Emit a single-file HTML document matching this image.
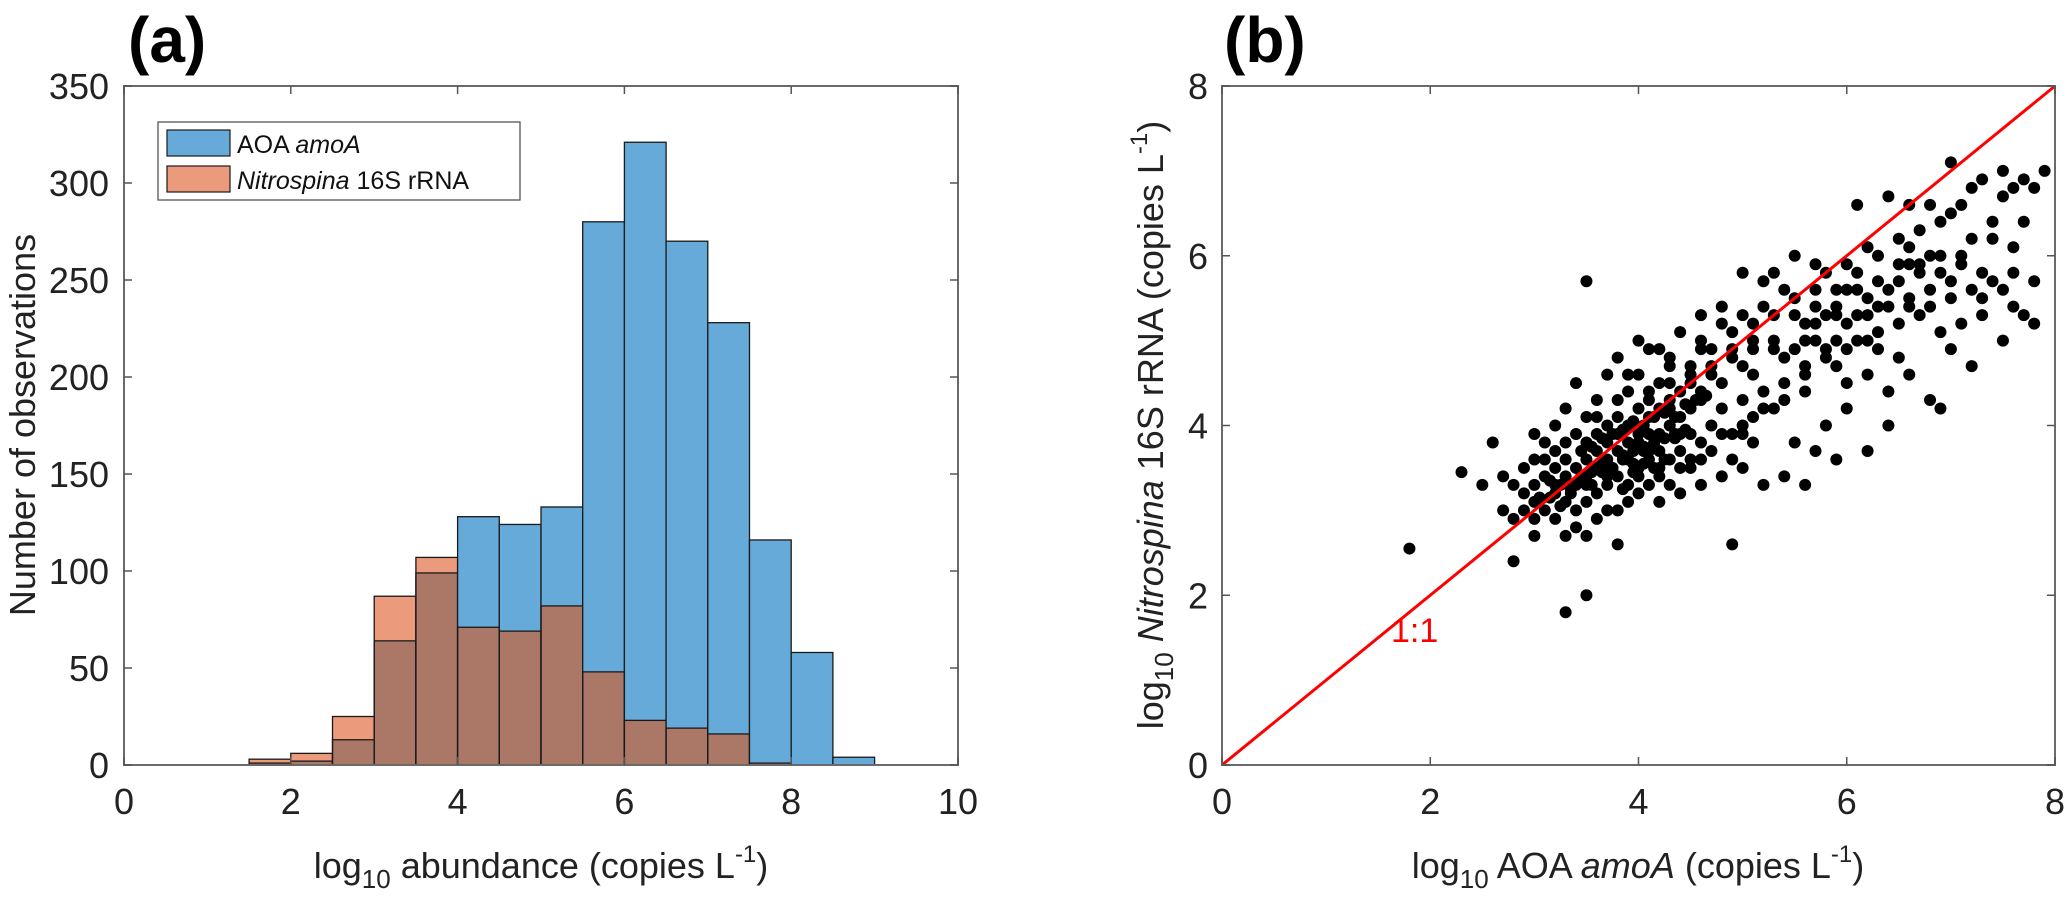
<!DOCTYPE html>
<html><head><meta charset="utf-8">
<style>
html,body{margin:0;padding:0;background:#fff;}
svg{display:block;font-family:"Liberation Sans",Arial,sans-serif;}
</style></head>
<body>
<svg id="fig" width="2067" height="901" viewBox="0 0 2067 901" xmlns="http://www.w3.org/2000/svg">
  <text x="128" y="62" font-size="64" font-weight="bold">(a)</text>
  <text x="1224" y="62" font-size="64" font-weight="bold">(b)</text>
  <g id="histA"></g>
  <g id="scatB"></g>
</svg>
<script>
const NS = "http://www.w3.org/2000/svg";
// ---- Histogram data ----
const binEdgesStart = [1.5,2,2.5,3,3.5,4,4.5,5,5.5,6,6.5,7,7.5,8,8.5];
const aoaCounts =      [1,2,13,64,99,128,124,133,280,321,270,228,116,58,4];
const nitroCounts =    [3,6,25,87,107,71,69,82,48,23,19,16,1,0,0];
const binWidth = 0.5;
const histXTicks = [0,2,4,6,8,10];
const histYTicks = [0,50,100,150,200,250,300,350];
// ---- Scatter data ----
const scatterX = [1.8,2.3,2.6,2.8,3.0,3.3,3.5,3.5,3.0,3.4,3.8,4.9,2.7,2.5,2.9,
3.1,3.2,3.3,3.4,3.5,3.6,3.7,3.8,3.9,4.0,4.1,4.2,4.3,4.4,3.2,3.3,3.4,3.5,3.6,3.7,3.8,3.9,4.0,4.1,4.2,4.3,4.4,4.5,3.0,3.1,3.3,3.5,3.6,3.7,3.8,3.9,4.0,4.1,4.2,3.4,3.6,3.7,3.9,4.0,4.1,4.3,4.5,4.6,4.7,4.8,4.6,4.4,4.2,4.0,3.9,3.6,3.3,3.0,2.9,2.8,2.7,3.1,3.2,3.3,3.5,3.8,4.2,4.4,4.6,4.8,5.0,4.9,5.0,5.1,4.9,4.7,4.5,4.3,4.1,4.0,3.8,3.7,4.6,4.8,5.0,5.2,5.1,5.3,5.4,5.2,5.4,5.5,5.6,5.5,5.7,5.8,5.9,6.0,5.3,5.5,5.0,4.8,4.6,4.4,4.2,5.6,5.8,5.7,5.9,6.0,6.1,6.2,6.3,6.4,6.5,6.6,6.7,6.8,6.9,7.0,7.1,7.2,7.3,7.4,7.5,7.6,6.1,6.3,6.5,6.2,6.7,6.9,7.0,7.2,7.3,7.5,7.6,7.7,7.9,7.8,7.5,7.1,7.0,6.8,6.6,6.4,6.6,6.8,7.4,7.6,6.1,6.3,6.5,6.7,6.9,7.1,7.3,7.5,7.7,7.8,6.0,6.2,6.4,6.6,6.8,6.9,6.4,6.5,7.0,7.2,5.8,5.5,5.4,5.2,5.6,5.7,5.9,6.2,6.0,5.0,5.1,5.3,5.6,5.9,6.3,5.7,5.8,6.0,5.4,5.2,5.1,4.9,4.7,4.5,4.5,4.3,4.4,4.2,4.0,3.9,3.7,3.5,3.4,3.2,3.0,2.9,3.6,3.8,4.1,4.3,4.6,4.8,5.0,5.3,5.6,5.9,6.2,6.4,6.6,6.8,7.0,7.3,7.6,7.8,6.1,6.6,7.1,5.7,4.6,4.3,3.9,3.5,3.2,3.1,4.0,3.7,3.5,3.3,4.2,4.5,4.7,4.9,5.1,3.0,2.8,3.2,3.4,3.6,3.8,4.1,4.3,4.5,4.7,4.9,5.1,5.3,5.5,5.7,5.9,6.1,6.3,6.5,6.7,6.9,7.2,7.4,7.7,4.1,4.4,4.6,4.8,5.0,5.2,5.4,5.6,5.8,6.0,6.2,
3.15,3.25,3.35,3.45,3.55,3.65,3.75,3.85,3.95,4.05,4.15,4.25,4.35,3.25,3.35,3.45,3.55,3.65,3.75,3.85,3.95,4.05,4.15,4.25,4.35,4.45,3.45,3.55,3.65,3.75,3.85,3.95,4.05,4.15,4.25,4.35,4.45,4.55,4.65,3.05,3.15,3.85,3.95,4.05,4.15];
const scatterY = [2.55,3.45,3.8,2.4,2.7,1.8,2.0,5.7,3.9,4.5,2.6,2.6,3.0,3.3,3.2,
3.0,3.2,3.1,3.3,3.4,3.5,3.6,3.7,3.6,3.8,3.9,3.7,4.0,4.1,3.5,3.6,3.0,3.1,3.2,3.3,3.4,3.3,3.5,3.6,3.4,3.6,3.7,3.9,3.3,3.6,3.8,3.8,3.9,4.0,4.1,4.0,4.2,4.3,4.2,2.8,2.9,3.0,3.1,3.2,3.3,3.3,3.5,3.8,4.0,4.2,4.3,4.4,4.5,4.6,4.4,4.3,4.2,3.6,3.5,3.3,3.4,3.4,2.9,2.7,2.7,3.0,3.1,3.2,3.3,3.4,3.5,3.9,4.3,4.6,4.8,4.6,4.7,4.8,4.9,5.0,4.8,4.6,5.0,5.2,5.3,5.4,5.0,5.0,4.8,4.4,4.5,4.9,5.2,5.5,5.6,5.8,5.4,5.6,5.8,6.0,5.8,5.4,5.3,5.1,4.9,4.6,4.8,5.0,5.0,5.2,5.3,5.5,5.4,5.6,5.7,5.5,5.8,5.6,5.8,5.7,5.9,5.6,5.8,5.7,5.6,5.4,5.8,6.0,6.2,6.1,6.3,6.4,6.5,6.8,6.9,7.0,6.8,6.9,7.0,6.8,6.7,6.6,7.1,6.6,6.6,6.7,5.9,6.0,6.4,6.1,5.0,5.1,5.2,5.3,5.1,5.2,5.3,5.0,5.3,5.2,4.5,4.6,4.4,4.6,4.3,4.2,4.0,4.8,4.9,4.7,4.0,3.8,3.4,3.3,3.3,3.7,3.6,3.7,4.2,3.9,4.1,4.2,4.4,4.7,4.9,5.4,5.3,5.9,5.6,5.7,5.2,5.1,4.9,4.5,4.2,4.3,3.9,3.9,3.9,3.8,3.8,3.6,3.5,3.3,3.1,3.0,3.7,3.9,4.1,4.2,4.4,4.5,4.7,4.9,5.0,5.3,5.3,5.4,5.4,5.4,5.5,5.5,5.8,5.7,6.6,6.1,6.0,5.9,4.9,4.7,4.6,4.1,4.0,3.8,3.4,3.4,3.3,3.4,3.5,3.6,3.7,3.6,3.8,2.9,2.9,3.7,3.9,4.1,4.3,4.4,4.5,4.6,4.7,4.9,4.9,5.3,5.3,5.2,5.6,5.6,5.7,5.9,5.9,6.0,6.2,6.2,6.4,3.7,3.5,3.6,3.9,4.0,4.2,4.3,4.7,4.9,4.9,5.0,
3.15,3.3,3.25,3.4,3.45,3.55,3.5,3.65,3.7,3.75,3.8,3.85,3.9,3.05,3.2,3.35,3.3,3.45,3.5,3.6,3.55,3.7,3.75,3.6,3.85,3.95,3.7,3.75,3.85,3.9,3.95,4.05,4.0,4.1,4.15,4.1,4.25,4.3,4.35,3.15,3.35,3.25,3.45,3.55,3.5];
const scatTicks = [0,2,4,6,8];

function mk(tag, attrs, parent, txt){
  const e = document.createElementNS(NS, tag);
  for (const k in attrs) e.setAttribute(k, attrs[k]);
  if (txt !== undefined) e.textContent = txt;
  parent.appendChild(e);
  return e;
}

// ===== Panel A =====
(function(){
  const g = document.getElementById('histA');
  const L=124,R=958,T=86,B=765;
  const xs = v => L + (v-0)/10*(R-L);
  const ys = v => B - v/350*(B-T);
  const COL_B="#66aad9", COL_O="#eb9a7b", COL_M="#ab7767";
  for (let i=0;i<binEdgesStart.length;i++){
    const x0=xs(binEdgesStart[i]), x1=xs(binEdgesStart[i]+binWidth);
    const a=aoaCounts[i], n=nitroCounts[i], m=Math.min(a,n);
    if (a>n){
      const r=mk('rect',{x:x0,y:ys(a),width:x1-x0,height:ys(m)-ys(a),fill:COL_B},g);
      
      
    } else if (n>a){
      const r=mk('rect',{x:x0,y:ys(n),width:x1-x0,height:ys(m)-ys(n),fill:COL_O},g);
      
      
    }
    if (m>0){
      const r=mk('rect',{x:x0,y:ys(m),width:x1-x0,height:B-ys(m),fill:COL_M},g);
      
      
    }
    if (a>0){
      const r=mk('rect',{x:x0,y:ys(a),width:x1-x0,height:B-ys(a),fill:'none',stroke:'#1a1a1a','stroke-width':1.3},g);
      
      
    }
    if (n>0){
      const r=mk('rect',{x:x0,y:ys(n),width:x1-x0,height:B-ys(n),fill:'none',stroke:'#1a1a1a','stroke-width':1.3},g);
      
      
    }
  }
  const box=mk('rect',{x:L,y:T,width:R-L,height:B-T,fill:'none',stroke:'#6a6a6a','stroke-width':2},g);
  
  
  histXTicks.forEach(v=>{
    const x=xs(v);
    mk('line',{x1:x,y1:B,x2:x,y2:B-8,stroke:'#555','stroke-width':1.5},g);
    mk('line',{x1:x,y1:T,x2:x,y2:T+8,stroke:'#555','stroke-width':1.5},g);
    const t=mk('text',{x:x,y:814,'font-size':36,'text-anchor':'middle',fill:'#222'},g,String(v));
    
    
  });
  histYTicks.forEach(v=>{
    const y=ys(v);
    mk('line',{x1:L,y1:y,x2:L+8,y2:y,stroke:'#555','stroke-width':1.5},g);
    mk('line',{x1:R,y1:y,x2:R-8,y2:y,stroke:'#555','stroke-width':1.5},g);
    const t=mk('text',{x:109,y:y+13,'font-size':36,'text-anchor':'end',fill:'#222'},g,String(v));
    
    
  });
  // legend
  const lg=mk('g',{},g);
  
  
  mk('rect',{x:158,y:122,width:362,height:78,fill:'#fff',stroke:'#555','stroke-width':1.3},lg);
  mk('rect',{x:167,y:130,width:63,height:26,fill:COL_B,stroke:'#1a1a1a','stroke-width':1.2},lg);
  mk('rect',{x:167,y:166,width:63,height:26,fill:COL_O,stroke:'#1a1a1a','stroke-width':1.2},lg);
  const l1=mk('text',{x:237,y:153,'font-size':25,fill:'#111'},lg);
  l1.innerHTML='AOA <tspan font-style="italic">amoA</tspan>';
  
  
  const l2=mk('text',{x:237,y:189,'font-size':25,fill:'#111'},lg);
  l2.innerHTML='<tspan font-style="italic">Nitrospina</tspan> 16S rRNA';
  
  
  const xl=mk('text',{x:541,y:878,'font-size':36,'text-anchor':'middle',fill:'#222'},g);
  xl.innerHTML='log<tspan font-size="26" dy="10">10</tspan><tspan dy="-10"> abundance (copies L</tspan><tspan font-size="24" dy="-16">-1</tspan><tspan dy="16">)</tspan>';
  
  
  const yl=mk('text',{x:0,y:0,'font-size':36,'text-anchor':'middle',fill:'#222',transform:'translate(35,425) rotate(-90)'},g,'Number of observations');
  
  
})();

// ===== Panel B =====
(function(){
  const g=document.getElementById('scatB');
  const L=1222,R=2055,T=86,B=765;
  const xs=v=>L+v/8*(R-L), ys=v=>B-v/8*(B-T);
  for(let i=0;i<scatterX.length;i++){
    const c=mk('circle',{cx:xs(scatterX[i]),cy:ys(scatterY[i]),r:6,fill:'#000'},g);
    
    
  }
  const ln=mk('line',{x1:xs(0),y1:ys(0),x2:xs(8),y2:ys(8),stroke:'#ff0000','stroke-width':3},g);
  
  
  const ll=mk('text',{x:xs(1.85),y:ys(1.45),'font-size':34,'text-anchor':'middle',fill:'#ff0000'},g,'1:1');
  
  
  const box=mk('rect',{x:L,y:T,width:R-L,height:B-T,fill:'none',stroke:'#6a6a6a','stroke-width':2},g);
  
  
  scatTicks.forEach(v=>{
    const x=xs(v), y=ys(v);
    mk('line',{x1:x,y1:B,x2:x,y2:B-8,stroke:'#555','stroke-width':1.5},g);
    mk('line',{x1:x,y1:T,x2:x,y2:T+8,stroke:'#555','stroke-width':1.5},g);
    mk('line',{x1:L,y1:y,x2:L+8,y2:y,stroke:'#555','stroke-width':1.5},g);
    mk('line',{x1:R,y1:y,x2:R-8,y2:y,stroke:'#555','stroke-width':1.5},g);
    const tx=mk('text',{x:x,y:814,'font-size':36,'text-anchor':'middle',fill:'#222'},g,String(v));
    
    
    const ty=mk('text',{x:1208,y:y+13,'font-size':36,'text-anchor':'end',fill:'#222'},g,String(v));
    
    
  });
  const xl=mk('text',{x:1638,y:878,'font-size':36,'text-anchor':'middle',fill:'#222'},g);
  xl.innerHTML='log<tspan font-size="26" dy="10">10</tspan><tspan dy="-10"> AOA </tspan><tspan font-style="italic">amoA</tspan><tspan> (copies L</tspan><tspan font-size="24" dy="-16">-1</tspan><tspan dy="16">)</tspan>';
  
  
  const yl=mk('text',{x:0,y:0,'font-size':36,'text-anchor':'middle',fill:'#222',transform:'translate(1163,425) rotate(-90)'},g);
  yl.innerHTML='log<tspan font-size="26" dy="10">10</tspan><tspan dy="-10"> </tspan><tspan font-style="italic">Nitrospina</tspan><tspan> 16S rRNA (copies L</tspan><tspan font-size="24" dy="-16">-1</tspan><tspan dy="16">)</tspan>';
  
  
})();
</script>
</body></html>
